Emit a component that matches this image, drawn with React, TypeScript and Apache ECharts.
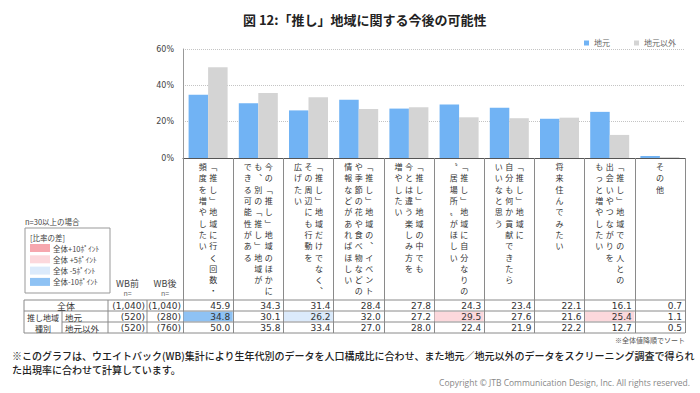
import React, { useEffect, useRef } from "react";
import * as echarts from "echarts";

const titleText = "図 12:「推し」地域に関する今後の可能性";
const seriesNames = ["地元", "地元以外"];
const categoryColumns: string[][] = [
  ["「推し」地域に行く回数・", "頻度を増やしたい"],
  ["今の「推し」地域のほかに", "も、別の「推し」地域が", "できる可能性がある"],
  ["「推し」地域だけでなく、", "その周辺にも行動を", "広げたい"],
  ["「推し」地域の、イベント", "や季節の花や食べ物などの", "情報などがあればほしい"],
  ["「推し」地域の中でも", "今とは違う楽しみ方を", "増やしたい"],
  ["「推し」地域に自分なりの", "“居場所”がほしい"],
  ["「推し」地域に", "自分も何か貢献できたら", "いいなと思う"],
  ["将来住んでみたい"],
  ["「推し」地域での人との", "出会いやつながりを", "もっと増やしたい"],
  ["その他"],
];
const totalValues = [45.9, 34.3, 31.4, 28.4, 27.8, 24.3, 23.4, 22.1, 16.1, 0.7];
const localValues = [34.8, 30.1, 26.2, 32.0, 27.2, 29.5, 27.6, 21.6, 25.4, 1.1];
const nonLocalValues = [50.0, 35.8, 33.4, 27.0, 28.0, 22.4, 21.9, 22.2, 12.7, 0.5];
const nBefore = [1040, 520, 520];
const nAfter = [1040, 280, 760];
const rowLabels = ["全体", "地元", "地元以外"];
const groupLabel = ["推し地域", "種別"];
const legendBoxTitle = "n=30以上の場合";
const legendBoxHeader = "[比率の差]";
const diffLegendLabels = ["全体+10ﾎﾟｲﾝﾄ", "全体 +5ﾎﾟｲﾝﾄ", "全体 -5ﾎﾟｲﾝﾄ", "全体-10ﾎﾟｲﾝﾄ"];
const sortNote = "※全体値降順でソート";
const footnoteLines = [
  "※このグラフは、ウエイトバック(WB)集計により生年代別のデータを人口構成比に合わせ、また地元／地元以外のデータをスクリーニング調査で得られ",
  "た出現率に合わせて計算しています。",
];
const copyrightText = "Copyright © JTB Communication Design, Inc. All rights reserved.";
const yTicks = [0, 20, 40, 60];

const BLUE = "#71b3f4";
const GRAY = "#d4d4d4";
const DIFF_COLORS = ["#f6a7ae", "#fcd8dc", "#dbeafb", "#8ec2f4"];
const LINE = "#8a8a8a";
const JP = "'Noto Sans CJK JP', sans-serif";
const NUM = "'DejaVu Sans', sans-serif";

const verticalMap: Record<string, string> = {
  "「": "\uFE41",
  "」": "\uFE42",
  "、": "\uFE11",
  "“": "\u301D",
  "”": "\u301F",
};

function verticalLabel(index: number): string {
  const cols = categoryColumns[index].map((c) =>
    Array.from(c).map((ch) => verticalMap[ch] || ch)
  );
  const rows = Math.max(...cols.map((c) => c.length));
  const ordered = cols.slice().reverse();
  const lines: string[] = [];
  for (let r = 0; r < rows; r++) {
    lines.push(ordered.map((c) => `{c|${c[r] || "\u3000"}}`).join(""));
  }
  return lines.join("\n");
}

function diffColor(v: number, t: number): string | null {
  const d = v - t;
  if (d >= 10) return DIFF_COLORS[0];
  if (d >= 5) return DIFF_COLORS[1];
  if (d <= -10) return DIFF_COLORS[3];
  if (d <= -5) return DIFF_COLORS[2];
  return null;
}

export default function App() {
  const ref = useRef<HTMLDivElement>(null);
  useEffect(() => {
    if (!ref.current) return;
    const chart = echarts.init(ref.current, null, { renderer: "svg" });
    const gridLeft = 183;
    const gridRight = 15;
    const gridTop = 49;
    const axisY = 158;
    const tableTop = 300;
    const rowH = 11;
    const tableBottom = tableTop + rowH * 3;
    const categories = categoryColumns.map((c) => c.join(""));

    chart.setOption({
      animation: false,
      textStyle: { fontFamily: JP },
      title: {
        text: titleText,
        left: 238,
        top: 8,
        textStyle: { fontSize: 13, fontWeight: "bold", color: "#222", fontFamily: JP },
      },
      legend: {
        data: seriesNames,
        right: 19,
        top: 34,
        icon: "rect",
        itemWidth: 5,
        itemHeight: 5,
        itemGap: 24,
        textStyle: { fontSize: 8, color: "#666", fontFamily: JP },
      },
      grid: { left: gridLeft, right: gridRight, top: gridTop, bottom: 393 - axisY },
      xAxis: {
        type: "category",
        data: categories,
        axisLine: { lineStyle: { color: "#555", width: 1 } },
        axisTick: { show: true, length: tableBottom - axisY, interval: 0, lineStyle: { color: LINE } },
        axisLabel: {
          interval: 0,
          margin: 3,
          formatter: (_v: string, i: number) => verticalLabel(i),
          rich: {
            c: { width: 10.5, align: "center", fontSize: 8, lineHeight: 11.3, color: "#333", fontFamily: JP },
          },
        },
      },
      yAxis: {
        type: "value",
        min: yTicks[0],
        max: yTicks[yTicks.length - 1],
        interval: yTicks[1] - yTicks[0],
        axisLine: { show: true, lineStyle: { color: "#999" } },
        axisTick: { show: false },
        axisLabel: { formatter: "{value}%", fontSize: 8, color: "#444", fontFamily: NUM, margin: 9 },
        splitLine: { lineStyle: { color: "#c4c4c4", type: [1, 1] } },
      },
      series: [
        { name: seriesNames[0], type: "bar", data: localValues, barWidth: 19.5, barGap: "0%", itemStyle: { color: BLUE } },
        { name: seriesNames[1], type: "bar", data: nonLocalValues, barWidth: 19.5, barGap: "0%", itemStyle: { color: GRAY } },
      ],
    });

    const cx = categories.map((_, i) => chart.convertToPixel({ xAxisIndex: 0 }, i) as number);
    const catW = cx.length > 1 ? cx[1] - cx[0] : 50;
    const rightEdge = cx[cx.length - 1] + catW / 2;
    const g: any[] = [];
    const hline = (x1: number, x2: number, y: number) =>
      g.push({ type: "line", shape: { x1, y1: y, x2, y2: y }, style: { stroke: LINE, lineWidth: 1 }, z: 10 });
    const vline = (x: number, y1: number, y2: number) =>
      g.push({ type: "line", shape: { x1: x, y1, x2: x, y2 }, style: { stroke: LINE, lineWidth: 1 }, z: 10 });
    const txt = (text: string, x: number, y: number, o: any = {}) =>
      g.push({
        type: "text",
        x,
        y,
        z: 11,
        style: {
          text,
          fill: o.fill || "#333",
          fontSize: o.fontSize || 8.5,
          fontFamily: o.fontFamily || JP,
          fontWeight: o.fontWeight || "normal",
          align: o.align || "left",
          verticalAlign: "middle",
        },
      });

    [localValues, nonLocalValues].forEach((vals, r) => {
      vals.forEach((v, i) => {
        const c = diffColor(v, totalValues[i]);
        if (c) {
          g.push({
            type: "rect",
            shape: { x: cx[i] - catW / 2 + 0.5, y: tableTop + rowH * (r + 1) + 0.5, width: catW - 1, height: rowH - 1 },
            style: { fill: c },
            z: 5,
          });
        }
      });
    });

    const x0 = 24, x1 = 62, x2 = 108, x3 = 147;
    hline(x0, rightEdge, tableTop);
    hline(x0, rightEdge, tableTop + rowH);
    hline(x1, rightEdge, tableTop + rowH * 2);
    hline(x0, rightEdge, tableBottom);
    vline(x0, tableTop, tableBottom);
    vline(x1, tableTop + rowH, tableBottom);
    vline(x2, tableTop, tableBottom);
    vline(x3, tableTop, tableBottom);

    const rowsVals = [totalValues, localValues, nonLocalValues];
    rowsVals.forEach((vals, r) => {
      const y = tableTop + rowH * r + rowH / 2 + 0.5;
      vals.forEach((v, i) => {
        txt(v.toFixed(1), cx[i] + catW / 2 - 3, y, { align: "right", fontFamily: NUM, fontSize: 9, fill: "#333" });
      });
      txt(`(${nBefore[r].toLocaleString("en-US")})`, x3 - 2, y, { align: "right", fontFamily: NUM, fontSize: 9 });
      txt(`(${nAfter[r].toLocaleString("en-US")})`, gridLeft - 2, y, { align: "right", fontFamily: NUM, fontSize: 9 });
    });
    txt(rowLabels[0], (x0 + x2) / 2, tableTop + rowH / 2 + 0.5, { align: "center", fontSize: 9 });
    txt(rowLabels[1], x1 + 3, tableTop + rowH * 1.5 + 0.5, { fontSize: 8.5 });
    txt(rowLabels[2], x1 + 3, tableTop + rowH * 2.5 + 0.5, { fontSize: 8.5 });
    txt(groupLabel[0], (x0 + x1) / 2, tableTop + rowH * 1.5 + 0.5, { align: "center", fontSize: 8 });
    txt(groupLabel[1], (x0 + x1) / 2, tableTop + rowH * 2.5 + 0.5, { align: "center", fontSize: 8 });

    txt("WB前", (x2 + x3) / 2, 283, { align: "center", fontSize: 9, fill: "#444" });
    txt("WB後", (x3 + gridLeft) / 2, 283, { align: "center", fontSize: 9, fill: "#444" });
    txt("n=", (x2 + x3) / 2, 293, { align: "center", fontSize: 7, fill: "#666" });
    txt("n=", (x3 + gridLeft) / 2, 293, { align: "center", fontSize: 7, fill: "#666" });

    txt(legendBoxTitle, 25, 221, { fontSize: 7.5, fill: "#444" });
    g.push({ type: "rect", shape: { x: 25, y: 228, width: 85, height: 65 }, style: { fill: "#fff", stroke: "#999", lineWidth: 1 }, z: 4 });
    txt(legendBoxHeader, 30, 237, { fontSize: 7.5, fill: "#444" });
    diffLegendLabels.forEach((l, i) => {
      const y = 248 + i * 11.3;
      g.push({ type: "rect", shape: { x: 30, y: y - 4, width: 20, height: 8 }, style: { fill: DIFF_COLORS[i] }, z: 6 });
      txt(l, 53, y, { fontSize: 7.5, fill: "#444" });
    });

    txt(sortNote, rightEdge, 340, { align: "right", fontSize: 7, fill: "#555" });
    txt(footnoteLines[0], 12, 355, { fontSize: 10, fill: "#222", fontWeight: 500 });
    txt(footnoteLines[1], 12, 369, { fontSize: 10, fill: "#222", fontWeight: 500 });
    txt(copyrightText, 690, 382, { align: "right", fontSize: 8.5, fill: "#888", fontFamily: "'Open Sans', sans-serif" });

    chart.setOption({ graphic: g });
    return () => chart.dispose();
  }, []);
  return <div ref={ref} style={{ position: "fixed", left: 0, top: 0, width: 700, height: 393, background: "#fff" }} />;
}
